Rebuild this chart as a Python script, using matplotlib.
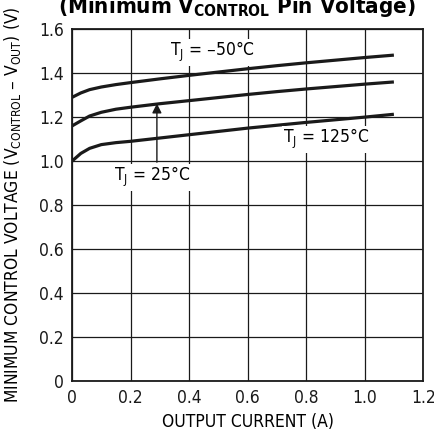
import matplotlib.pyplot as plt

plt.rcParams['font.family'] = ['DejaVu Sans']
plt.rcParams['font.stretch'] = 'condensed'

# output current (A)
current = [0.0, 0.03, 0.06, 0.1, 0.15, 0.2, 0.3, 0.4, 0.5, 0.6, 0.7, 0.8, 0.9, 1.0, 1.1]
# minimum control voltage (V) per junction temperature
v_m50 = [1.29, 1.31, 1.325, 1.337, 1.348, 1.357, 1.374, 1.39, 1.405, 1.42, 1.434, 1.447, 1.459, 1.471, 1.482]
v_25 = [1.16, 1.183, 1.205, 1.222, 1.236, 1.245, 1.261, 1.275, 1.289, 1.303, 1.316, 1.328, 1.339, 1.35, 1.36]
v_125 = [1.0, 1.035, 1.058, 1.075, 1.084, 1.09, 1.105, 1.12, 1.135, 1.15, 1.163, 1.176, 1.188, 1.2, 1.213]

xticks = [0, 0.2, 0.4, 0.6, 0.8, 1.0, 1.2]
xtick_labels = ['0', '0.2', '0.4', '0.6', '0.8', '1.0', '1.2']
yticks = [0, 0.2, 0.4, 0.6, 0.8, 1.0, 1.2, 1.4, 1.6]
ytick_labels = ['0', '0.2', '0.4', '0.6', '0.8', '1.0', '1.2', '1.4', '1.6']

fig = plt.figure(figsize=(4.34, 4.42), dpi=100)
ax = fig.add_axes([0.166, 0.138, 0.809, 0.796])

for v in (v_m50, v_25, v_125):
    ax.plot(current, v, color='#1a1a1a', lw=2.3, solid_capstyle='butt', zorder=3)

ax.set_xlim(0, 1.2)
ax.set_ylim(0, 1.6)
ax.set_xticks(xticks)
ax.set_xticklabels(xtick_labels)
ax.set_yticks(yticks)
ax.set_yticklabels(ytick_labels)
ax.tick_params(length=0, labelsize=12.5, pad=6, colors='#1a1a1a')
ax.grid(True, color='#1a1a1a', lw=0.9)
ax.set_axisbelow(True)
for s in ax.spines.values():
    s.set_linewidth(1.3)
    s.set_color('#1a1a1a')

box = dict(facecolor='white', edgecolor='none', pad=1.0)
ax.text(0.479, 1.495, r'T$_\mathregular{J}$ = –50°C', fontsize=12.5, ha='center', va='center', bbox=box, zorder=4)
ax.text(0.868, 1.10, r'T$_\mathregular{J}$ = 125°C', fontsize=12.5, ha='center', va='center', bbox=box, zorder=4)
ax.text(0.274, 0.927, r'T$_\mathregular{J}$ = 25°C', fontsize=12.5, ha='center', va='center', bbox=box, zorder=4)
ax.annotate('', xy=(0.29, 1.262), xytext=(0.29, 0.995),
            arrowprops=dict(arrowstyle='-|>', color='#1a1a1a', lw=1.0,
                            mutation_scale=14, shrinkA=0, shrinkB=0), zorder=4)

ax.set_xlabel('OUTPUT CURRENT (A)', fontsize=12.5, labelpad=4)
fig.text(0.028, 0.536, r'MINIMUM CONTROL VOLTAGE (V$_\mathregular{CONTROL}$ – V$_\mathregular{OUT}$) (V)',
         rotation=90, fontsize=12.5, ha='center', va='center')
fig.text(0.545, 0.985, r'(Minimum V$_\mathregular{CONTROL}$ Pin Voltage)', fontsize=16,
         fontweight='bold', ha='center', va='center')

fig.savefig('out.png', dpi=100)
